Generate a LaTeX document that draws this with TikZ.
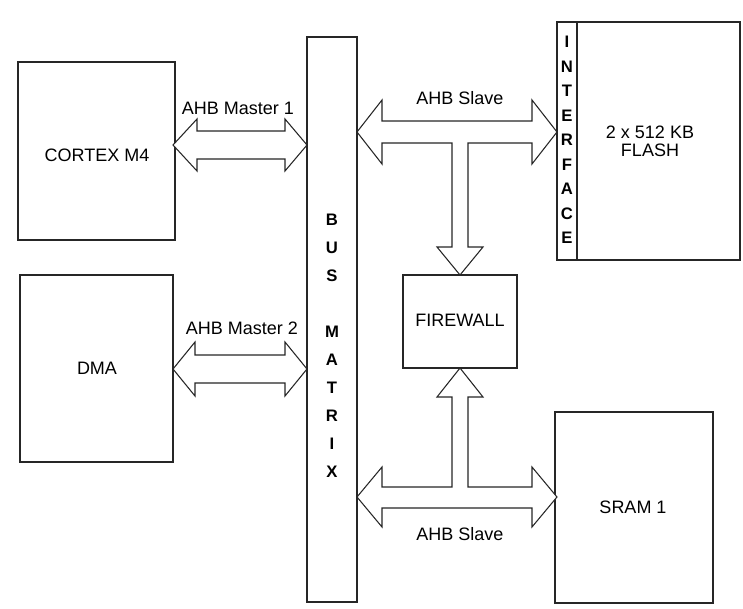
\documentclass[tikz,border=0pt]{standalone}
\usepackage{fontspec}
\setmainfont{Liberation Sans}
\begin{document}
\begin{tikzpicture}[x=0.75pt,y=-0.75pt,
  box/.style={draw=black!85,line width=0.9pt,inner sep=0pt,outer sep=0pt,fill=white},
  lbl/.style={font=\fontsize{13.5}{16}\selectfont,inner sep=0pt,align=center},
  vlet/.style={font=\fontsize{12.5}{#1}\selectfont\bfseries,inner sep=0pt,align=center},
  barrow/.style={draw=black!85,line width=0.8pt,fill=white,line join=miter}]
\useasboundingbox (0,0) rectangle (743,608);
% boxes
\node[box,minimum width=117.75pt,minimum height=133.5pt] (cortex) at (96.5,151) {};
\node[box,minimum width=114.75pt,minimum height=140.25pt] (dma) at (96.5,368.5) {};
\node[box,minimum width=37.5pt,minimum height=423.75pt] (bus) at (332,319.5) {};
\node[box,minimum width=15pt,minimum height=178.5pt] (iface) at (567,141) {};
\node[box,minimum width=122.25pt,minimum height=178.5pt] (flash) at (658.5,141) {};
\node[box,minimum width=85.5pt,minimum height=69.75pt] (firewall) at (460,321.5) {};
\node[box,minimum width=118.5pt,minimum height=143.25pt] (sram) at (634,507.5) {};
% labels
\node[lbl] (tcortex) at (97,155) {CORTEX M4};
\node[lbl] (tdma) at (97,368) {DMA};
\node[lbl] (tflash) at (650,141.5) {2 x 512 KB\\[-2.5pt]FLASH};
\node[lbl] (tfire) at (460,320) {FIREWALL};
\node[lbl] (tsram) at (633,507) {SRAM 1};
\node[vlet=21pt] (tbus) at (332,346) {B\\U\\S\\\strut\\M\\A\\T\\R\\I\\X};
\node[vlet=18.4pt] (tiface) at (567,140) {I\\N\\T\\E\\R\\F\\A\\C\\E};
% block arrows
\draw[barrow] (173,145) -- (197,119) -- (197,131) -- (285,131) -- (285,119) -- (307,145)
  -- (285,171) -- (285,159) -- (197,159) -- (197,171) -- cycle;
\draw[barrow] (173,369) -- (195,342) -- (195,355) -- (285,355) -- (285,342) -- (307,369)
  -- (285,396) -- (285,383) -- (195,383) -- (195,396) -- cycle;
\draw[barrow] (357,132) -- (382,100) -- (382,121) -- (532,121) -- (532,100) -- (557,132)
  -- (532,164) -- (532,143) -- (468,143) -- (468,247) -- (483,247) -- (460,275)
  -- (437,247) -- (452,247) -- (452,143) -- (382,143) -- (382,164) -- cycle;
\draw[barrow] (357,497) -- (382,467) -- (382,487) -- (452,487) -- (452,397) -- (437,397)
  -- (460,368) -- (483,397) -- (468,397) -- (468,487) -- (532,487) -- (532,467) -- (557,497)
  -- (532,527) -- (532,508) -- (382,508) -- (382,527) -- cycle;
% arrow labels
\node[lbl] (lm1) at (238,108) {AHB Master 1};
\node[lbl] (lm2) at (242,328) {AHB Master 2};
\node[lbl] (ls1) at (460,98) {AHB Slave};
\node[lbl] (ls2) at (460,534) {AHB Slave};
\end{tikzpicture}
\end{document}
